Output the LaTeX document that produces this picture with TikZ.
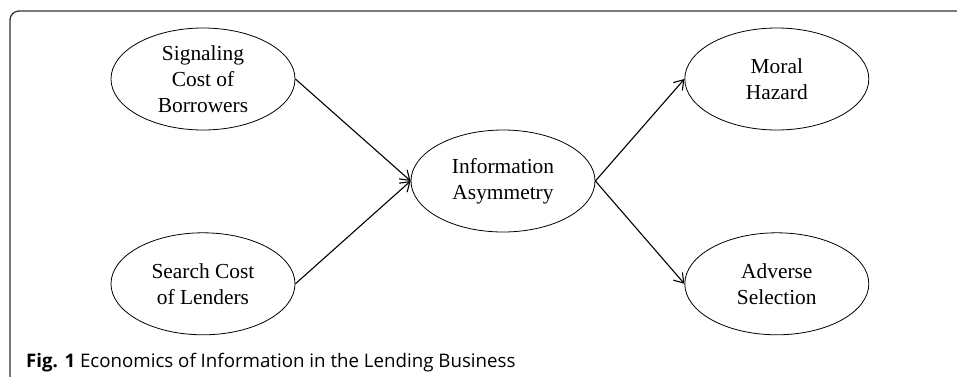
\documentclass[tikz,border=0pt]{standalone}
\usepackage{fontspec}
\setmainfont{Liberation Serif}
\newfontfamily\captionfont{Open Sans}
\usetikzlibrary{positioning,arrows.meta,shapes.geometric}

\tikzset{
  cost/.style={draw, ellipse, line width=0.8pt, minimum width=184pt, minimum height=102pt,
    inner sep=0pt, align=center, font=\fontsize{21.4}{25.8}\selectfont},
  link/.style={->, line width=1.1pt}
}

\begin{document}
\begin{tikzpicture}[x=1pt,y=1pt,>={Straight Barb[length=9pt,width=12pt]}]
                \useasboundingbox (0,0) rectangle (957,376);
                \draw[line width=1.3pt, rounded corners=9pt, black!80] (10,-5) -- (10,365) -- (970,365);

                \node[cost] at (203,297) (sig) {Signaling\\Cost of\\Borrowers};
                \node[cost, below=102pt of sig] (search) {Search Cost\\of Lenders};
                \node[cost] at (503,195) (info) {Information\\Asymmetry};
                \node[cost, right=389pt of sig] (moral) {Moral\\Hazard};
                \node[cost, right=389pt of search] (adverse) {Adverse\\Selection};

                \draw[link] (sig.east) -- (info.west);
                \draw[link] (search.east) -- (info.west);
                \draw[link] (info.east) -- (moral.west);
                \draw[link] (info.east) -- (adverse.west);

                \node[anchor=base west, inner sep=0pt, font=\captionfont\fontsize{18.7}{22}\selectfont] at (26,9) (caption)
                  {\textbf{Fig. 1} Economics of Information in the Lending Business};
            \end{tikzpicture}
\end{document}
